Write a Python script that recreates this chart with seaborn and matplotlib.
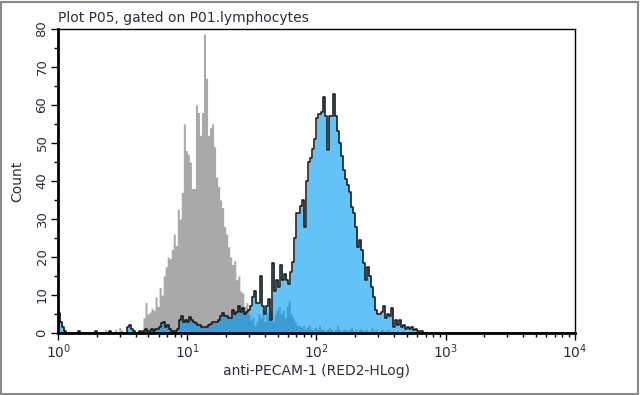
import numpy as np
import pandas as pd
import matplotlib
matplotlib.use("Agg")
import matplotlib.pyplot as plt
from matplotlib.patches import Rectangle
import seaborn as sns

# histogram channels: 256 bins over 4 log decades
n_bins = 256
decades = 4

# isotype control (gray), counts starting at bin 20
gray_start = 20
gray_counts = [
    0, 0, 0, 1, 0, 0.5, 0, 0, 1, 0, 1.5, 0.8, 0, 0, 0.5, 0, 0, 1, 0, 0.5,
    0.5, 1, 4, 8, 5, 5.5, 6.5, 6, 9.5, 7, 12, 10, 15, 17.4, 20, 19.5, 22, 26, 23, 32.5,
    30, 37, 55, 48, 47, 45, 38, 38, 60, 58, 52, 58, 78.6, 67, 52, 54, 55, 49, 41, 38.5,
    35, 33, 28, 26, 22.7, 20, 18, 19, 14, 15, 11, 10.5, 7, 8, 5, 3.4, 4, 2,
    3, 5, 4, 6, 3, 5, 4, 6, 3, 5, 6, 7, 5, 6, 4, 7, 8.5, 5, 4, 3,
    2, 2, 1.5, 2, 1, 1.5, 2, 1, 1, 1.5, 1, 2, 1, 1, 0.5, 1, 1.5, 1, 0.5, 1,
    2, 1, 0.5, 1, 1, 0.5, 1, 1.5, 0.5, 1, 0.5, 1, 1, 0.5, 1, 0.5, 0.5, 1.5, 0.5, 1,
    0.5, 0.5, 1, 0.5, 0.5, 1, 0.5, 0.5, 0.5, 0, 0.5, 0, 0.5,
]

# anti-PECAM-1 stained sample (blue), counts starting at bin 0
blue_start = 0
blue_counts = [
    5.3, 3, 1.5, 0.5, 0, 0, 0, 0, 0, 0, 0.5, 0, 0, 0, 0, 0, 0, 0, 0.5, 0,
    0, 0, 0, 0, 0, 0.5, 0, 0, 0, 0, 0, 0, 0, 0, 1.5, 2, 1, 0.5, 0, 0,
    0.5, 0, 0.5, 1, 0.5, 0.5, 1, 0.5, 1, 1, 1.5, 2.5, 3, 1.5, 2, 1, 0.5, 0.5, 0.5, 1,
    3.4, 4.5, 3, 3.4, 3, 4.2, 3.5, 3, 2.5, 2, 2, 1.5, 1.5, 1.5, 2, 2.4, 2.8, 3, 3, 3.5,
    4.5, 5.3, 4.5, 4.5, 4, 4, 6, 5, 5.5, 7, 5.5, 6.5, 5, 5.5, 6, 7, 9.5, 11, 8, 8,
    15, 7, 5, 7, 9, 3.4, 18.5, 11, 14, 12, 18, 14, 15.5, 14, 13, 16, 18.7, 25, 31.6, 31.6,
    33.5, 35, 28, 40, 45, 46, 48.3, 51, 56.5, 57.5, 58, 62, 57, 48, 57, 57, 62.8, 57, 53, 50,
    46.5, 43, 40.4, 39, 37, 33.2, 31.6, 28, 22.7, 24.5, 21.9, 18.5, 14, 17.4, 15, 12, 9.5, 6, 5, 5,
    5.5, 7, 4, 5, 4.5, 6.5, 1.6, 3.4, 2, 3.4, 1.5, 2, 1, 1.5, 1, 1.5, 0.8, 1, 0.5, 0.5,
    0.5,
]

x_ticks = [0, 1, 2, 3, 4]
x_tick_labels = ["$10^{0}$", "$10^{1}$", "$10^{2}$", "$10^{3}$", "$10^{4}$"]
y_ticks = list(range(0, 81, 10))
title = "Plot P05, gated on P01.lymphocytes"
x_label = "anti-PECAM-1 (RED2-HLog)"
y_label = "Count"

edges = np.linspace(0, decades, n_bins + 1)
gray = np.zeros(n_bins)
gray[gray_start:gray_start + len(gray_counts)] = gray_counts
blue = np.zeros(n_bins)
blue[blue_start:blue_start + len(blue_counts)] = blue_counts

df = pd.DataFrame({
    "channel": (edges[:-1] + edges[1:]) / 2,
    "gray": gray,
    "blue": blue,
    "overlap": np.minimum(gray, blue),
})

sns.set_style("white")
plt.rcParams["font.family"] = ["DejaVu Sans"]
text_color = "#2e2e3e"

fig, ax = plt.subplots(figsize=(6.4, 3.95), dpi=100)
fig.subplots_adjust(left=0.091, right=0.898, bottom=0.157, top=0.927)

hist_kw = dict(data=df, x="channel", bins=n_bins, binrange=(0, decades),
               element="step", ax=ax)
sns.histplot(weights="gray", fill=True, color="#a9a9a9", alpha=1, linewidth=0, **hist_kw)
sns.histplot(weights="blue", fill=True, color="#63c3f7", alpha=1, linewidth=0, **hist_kw)
sns.histplot(weights="overlap", fill=True, color="#3c9dd5", alpha=1, linewidth=0, **hist_kw)
sns.histplot(weights="blue", fill=False, color="#111111", linewidth=1.1, **hist_kw)

ax.set_xlim(0, decades)
ax.set_ylim(0, 80)
ax.set_xticks(x_ticks)
ax.set_xticklabels(x_tick_labels, fontsize=10, color=text_color)
minor_x = [k + np.log10(m) for k in range(decades) for m in range(2, 10)]
ax.set_xticks(minor_x, minor=True)
ax.set_yticks(y_ticks)
ax.set_yticklabels([str(v) for v in y_ticks], rotation=90, va="center",
                   fontsize=9.5, color=text_color)
ax.set_yticks(np.arange(5, 80, 10), minor=True)
ax.tick_params(which="both", direction="out", bottom=True, left=True,
               color="black", width=1)
ax.tick_params(which="major", length=5, pad=2)
ax.tick_params(which="minor", length=3)

ax.set_xlabel(x_label, fontsize=10, color=text_color, labelpad=2)
ax.set_ylabel(y_label, fontsize=10, color=text_color, labelpad=8)
ax.text(0, 1.012, title, transform=ax.transAxes, ha="left", va="bottom",
        fontsize=10, color=text_color)

for side in ["top", "right", "left", "bottom"]:
    ax.spines[side].set_visible(True)
    ax.spines[side].set_color("black")
    ax.spines[side].set_linewidth(1)
ax.spines["left"].set_linewidth(2)
ax.spines["bottom"].set_linewidth(2)

fig.patches.append(Rectangle((0.002, 0.003), 0.995, 0.993, transform=fig.transFigure,
                             fill=False, edgecolor="#8a8a8a", linewidth=1.5))

fig.savefig("out.png", dpi=100)
